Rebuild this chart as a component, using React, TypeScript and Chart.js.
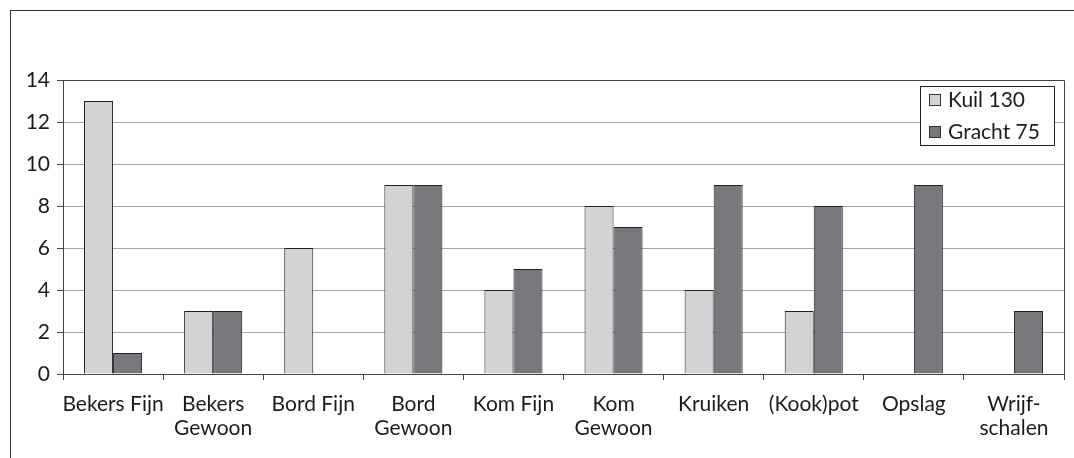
import React, { useEffect, useRef } from "react";
import { Chart, registerables } from "chart.js";
Chart.register(...registerables);

const categories: string[][] = [
  ["Bekers Fijn"],
  ["Bekers", "Gewoon"],
  ["Bord Fijn"],
  ["Bord", "Gewoon"],
  ["Kom Fijn"],
  ["Kom", "Gewoon"],
  ["Kruiken"],
  ["(Kook)pot"],
  ["Opslag"],
  ["Wrijf-", "schalen"],
];
const kuil130 = [13, 3, 6, 9, 4, 8, 4, 3, null, null];
const gracht75 = [1, 3, null, 9, 5, 7, 9, 8, 9, 3];
const seriesNames = ["Kuil 130", "Gracht 75"];
const yMin = 0;
const yMax = 14;
const yStep = 2;

const FONT = "Lato, 'Open Sans', sans-serif";
const LIGHT = "#d3d3d6";
const DARK = "#77787c";
const TEXT = "#1c1c1c";

const framePlugin = {
  id: "framePlugin",
  afterDraw(chart: any) {
    const { ctx, chartArea } = chart;
    ctx.save();
    ctx.strokeStyle = "#444";
    ctx.lineWidth = 1;
    ctx.beginPath();
    ctx.moveTo(Math.round(chartArea.left) + 0.5, Math.round(chartArea.top) + 0.5);
    ctx.lineTo(Math.round(chartArea.right) + 0.5, Math.round(chartArea.top) + 0.5);
    ctx.lineTo(Math.round(chartArea.right) + 0.5, Math.round(chartArea.bottom) + 0.5);
    ctx.stroke();

    // legend box inside plot area, top right
    const boxR = chartArea.right - 10;
    const boxW = 134;
    const boxL = boxR - boxW;
    const boxT = chartArea.top + 6;
    const boxH = 59;
    ctx.fillStyle = "#fff";
    ctx.fillRect(boxL, boxT, boxW, boxH);
    ctx.strokeStyle = "#222";
    ctx.strokeRect(Math.round(boxL) + 0.5, Math.round(boxT) + 0.5, boxW, boxH);
    const colors = [LIGHT, DARK];
    ctx.font = `21px ${FONT}`;
    ctx.textBaseline = "alphabetic";
    ctx.textAlign = "left";
    seriesNames.forEach((name, i) => {
      const y = boxT + 8 + i * 32;
      ctx.fillStyle = colors[i];
      ctx.fillRect(boxL + 9, y, 11, 11);
      ctx.strokeStyle = "#333";
      ctx.strokeRect(Math.round(boxL + 9) + 0.5, Math.round(y) + 0.5, 11, 11);
      ctx.fillStyle = TEXT;
      ctx.fillText(name, boxL + 28, y + 13);
    });
    ctx.restore();
  },
};

export default function App() {
  const ref = useRef<HTMLCanvasElement>(null);
  useEffect(() => {
    if (!ref.current) return;
    const chart = new Chart(ref.current, {
      type: "bar",
      data: {
        labels: categories as any,
        datasets: [
          {
            label: seriesNames[0],
            data: kuil130 as any,
            backgroundColor: LIGHT,
            borderColor: "#222",
            borderWidth: 1,
            categoryPercentage: 0.58,
            barPercentage: 1,
          },
          {
            label: seriesNames[1],
            data: gracht75 as any,
            backgroundColor: DARK,
            borderColor: "#222",
            borderWidth: 1,
            categoryPercentage: 0.58,
            barPercentage: 1,
          },
        ],
      },
      options: {
        animation: false,
        responsive: false,
        layout: { padding: { top: 80, right: 10, left: 0, bottom: 0 } },
        plugins: { legend: { display: false }, tooltip: { enabled: false } },
        scales: {
          x: {
            afterFit: (s: any) => {
              s.height = 84;
            },
            grid: {
              drawOnChartArea: false,
              offset: true,
              tickLength: 6,
              tickColor: "#444",
            },
            border: { color: "#444", width: 1 },
            ticks: {
              color: TEXT,
              font: { family: FONT, size: 21, lineHeight: 1.14 },
              padding: 12,
              maxRotation: 0,
              autoSkip: false,
            },
          },
          y: {
            min: yMin,
            max: yMax,
            afterFit: (s: any) => {
              s.width = 63;
            },
            grid: { color: "#a6a6a6", tickLength: 6, tickColor: "#444" },
            border: { color: "#444", width: 1 },
            ticks: {
              stepSize: yStep,
              color: TEXT,
              font: { family: FONT, size: 21 },
              padding: 7,
            },
          },
        },
      },
      plugins: [framePlugin],
    });
    return () => chart.destroy();
  }, []);
  return (
    <div
      style={{
        position: "fixed",
        left: 0,
        top: 0,
        width: 1074,
        height: 458,
        overflow: "hidden",
        background: "#fff",
      }}
    >
      <div
        style={{
          position: "absolute",
          left: 10,
          top: 10,
          width: 1200,
          height: 600,
          borderLeft: "1px solid #333",
          borderTop: "1px solid #333",
        }}
      />
      <canvas ref={ref} width={1074} height={458} style={{ position: "absolute", left: 0, top: 0 }} />
    </div>
  );
}
